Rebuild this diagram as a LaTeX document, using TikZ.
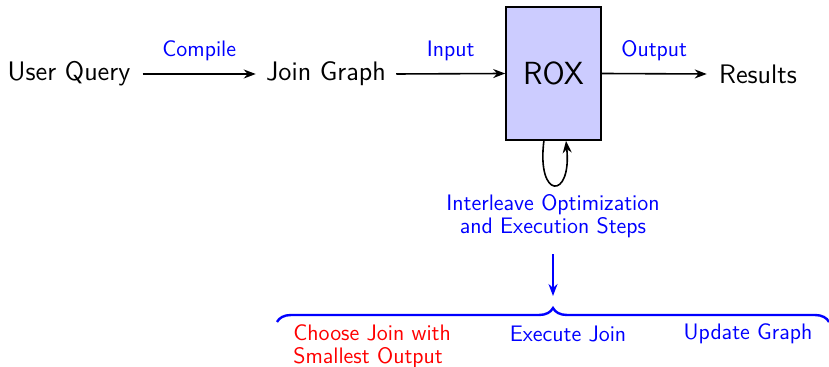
\documentclass[tikz,border=0pt]{standalone}
\usetikzlibrary{decorations.pathreplacing,arrows.meta}
\begin{document}
\begin{tikzpicture}[x=0.5pt,y=-0.5pt,
  font=\sffamily,
  item/.style={font=\sffamily\fontsize{13.4}{16}\selectfont, inner sep=0pt},
  lbl/.style={font=\sffamily\fontsize{11.2}{11.5}\selectfont, text=blue, inner sep=0pt},
  flow/.style={-{Stealth[length=6pt,width=4.5pt]}, thick},
  roxbox/.style={draw, thick, fill=blue!20, minimum width=47.5pt, minimum height=66.5pt, font=\sffamily\fontsize{16}{19}\selectfont}]
\useasboundingbox (0,0) rectangle (829,367);

\node[item] (uq) at (69,74) {User Query};
\node[item] (jg) at (326,74) {Join Graph};
\node[roxbox] (rox) at (553.5,73.5) {ROX};
\node[item] (res) at (758,74) {Results};

\draw[flow] ([xshift=6pt]uq.east) -- ([xshift=-5pt]jg.west) node[midway, lbl, above=6pt] {Compile};
\draw[flow] ([xshift=5pt]jg.east) -- (rox.west) node[midway, lbl, above=6pt] {Input};
\draw[flow] (rox.east) -- ([xshift=-6pt]res.west) node[midway, lbl, above=6pt] {Output};

% self loop under the ROX box
\coordinate (lpa) at (544,140);
\coordinate (lpb) at (566,141);
\draw[flow] (lpa) .. controls (536,200) and (572,200) .. (lpb);

\node[lbl, align=center] (il) at (553,216) {Interleave Optimization\\and Execution Steps};
\coordinate (ar) at (553,296);
\draw[flow, blue] ([yshift=-8pt]il.south) -- (ar);

% brace over the three steps
\coordinate (bl) at (277,322);
\coordinate (br) at (829,322);
\draw[blue, very thick, decorate, decoration={brace, amplitude=7pt}] (bl) -- (br);

\node[lbl, text=red, align=left, anchor=north west] (s1) at (293,324) {Choose Join with\\Smallest Output};
\node[lbl] (s2) at (568,334) {Execute Join};
\node[lbl] (s3) at (748,334) {Update Graph};
\end{tikzpicture}
\end{document}
